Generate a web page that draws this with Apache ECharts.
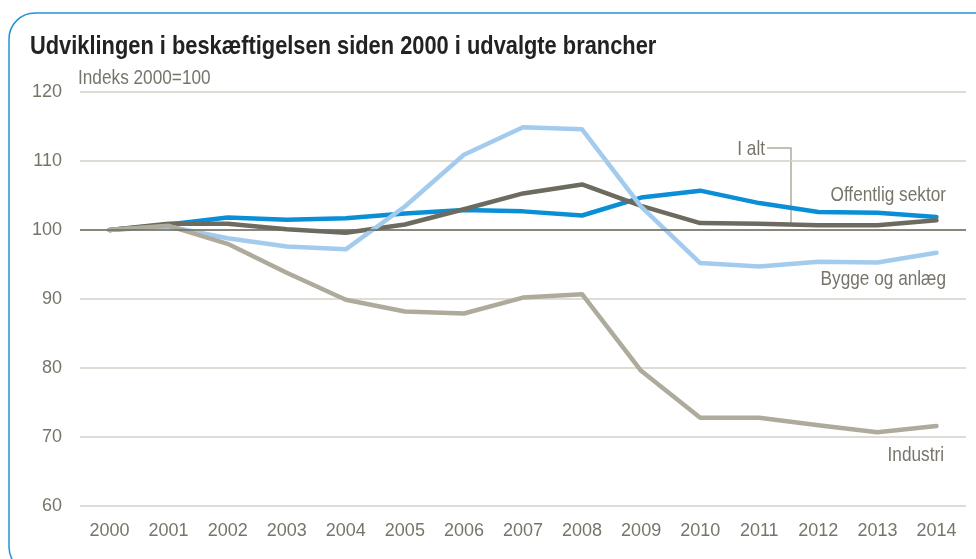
<!DOCTYPE html>
<html>
<head>
<meta charset="utf-8">
<script src="https://cdn.jsdelivr.net/npm/echarts@6/dist/echarts.min.js"></script>
<style>
  html, body { margin: 0; padding: 0; background: #fff; }
  #chart { width: 976px; height: 559px; }
</style>
</head>
<body>
<div id="chart"></div>
<script>
// data
var years = ['2000','2001','2002','2003','2004','2005','2006','2007','2008','2009','2010','2011','2012','2013','2014'];
var offentlig = [100, 100.8, 101.8, 101.5, 101.7, 102.4, 102.9, 102.7, 102.1, 104.7, 105.7, 103.9, 102.6, 102.5, 101.9];
var iAlt      = [100, 100.9, 100.9, 100.1, 99.6, 100.8, 103.0, 105.3, 106.6, 103.5, 101.0, 100.9, 100.7, 100.7, 101.4];
var bygge     = [100, 100.5, 98.8, 97.6, 97.2, 103.4, 110.9, 114.9, 114.6, 103.4, 95.2, 94.7, 95.4, 95.3, 96.7];
var industri  = [100, 100.6, 98.0, 93.8, 89.9, 88.2, 87.9, 90.2, 90.7, 79.6, 72.8, 72.8, 71.7, 70.7, 71.6];

var txtFont = '"Liberation Sans", Arial, sans-serif';
var txtColor = '#77756a';
var narrow = 0.82; // squeeze to look like a narrow face

function lineSeries(name, data, color){
    return {
        name: name,
        type: 'line',
        data: data,
        symbol: 'none',
        lineStyle: { color: color, width: 4.5, cap: 'round', join: 'round' },
        itemStyle: { color: color }
    };
}

/**
 * annotation text, squeezed horizontally
 */
function label(text, x, y, align, font, color, sx){
    return {
        type: 'text', x: x, y: y, scaleX: sx || narrow, silent: true,
        style: { text: text, font: font || ('21px ' + txtFont), fill: color || txtColor,
                 textAlign: align || 'left', textVerticalAlign: 'middle' }
    };
}

var chart = echarts.init(document.getElementById('chart'));

var s1 = lineSeries('Offentlig sektor', offentlig, '#0a8fd6');
// reference line at 100
s1.markLine = {
    silent: true,
    symbol: ['none','none'],
    label: { show: false },
    lineStyle: { color: '#6d6b5f', width: 1.5, type: 'solid' },
    data: [{ yAxis: 100 }]
};

chart.setOption({
    animation: false,
    backgroundColor: '#fff',
    grid: { left: 80, right: 10, top: 92, bottom: 53 },
    xAxis: {
        type: 'category',
        data: years,
        boundaryGap: true,
        axisLine: { show: false },
        axisTick: { show: false },
        axisLabel: { interval: 0, color: txtColor, fontFamily: txtFont, fontSize: 18, margin: 16 }
    },
    yAxis: {
        type: 'value',
        min: 60,
        max: 120,
        interval: 10,
        axisLine: { show: false },
        axisTick: { show: false },
        axisLabel: { color: txtColor, fontFamily: txtFont, fontSize: 18, margin: 18 },
        splitLine: { lineStyle: { color: '#d3d1c7', width: 1.5 } }
    },
    series: [
        s1,
        lineSeries('I alt', iAlt, '#6d6b5f'),
        lineSeries('Bygge og anlæg', bygge, '#a3cbee'),
        lineSeries('Industri', industri, '#aeab9c')
    ],
    graphic: [
        {   // frame
            type: 'rect',
            shape: { x: 9, y: 13, width: 990, height: 560, r: [26, 0, 0, 26] },
            style: { fill: null, stroke: '#2094d8', lineWidth: 1.5 },
            silent: true
        },
        label('Udviklingen i beskæftigelsen siden 2000 i udvalgte brancher', 30, 47, 'left',
              'bold 26px ' + txtFont, '#222', 0.84),
        label('Indeks 2000=100', 78, 78),
        label('I alt', 765, 149, 'right'),
        {
            type: 'polyline',
            shape: { points: [[767, 148], [791, 148], [791, 223]] },
            style: { stroke: '#aeab9c', lineWidth: 1.5, fill: null },
            silent: true
        },
        label('Offentlig sektor', 946, 195, 'right'),
        label('Bygge og anlæg', 946, 279, 'right'),
        label('Industri', 944, 455, 'right')
    ]
});
</script>
</body>
</html>
